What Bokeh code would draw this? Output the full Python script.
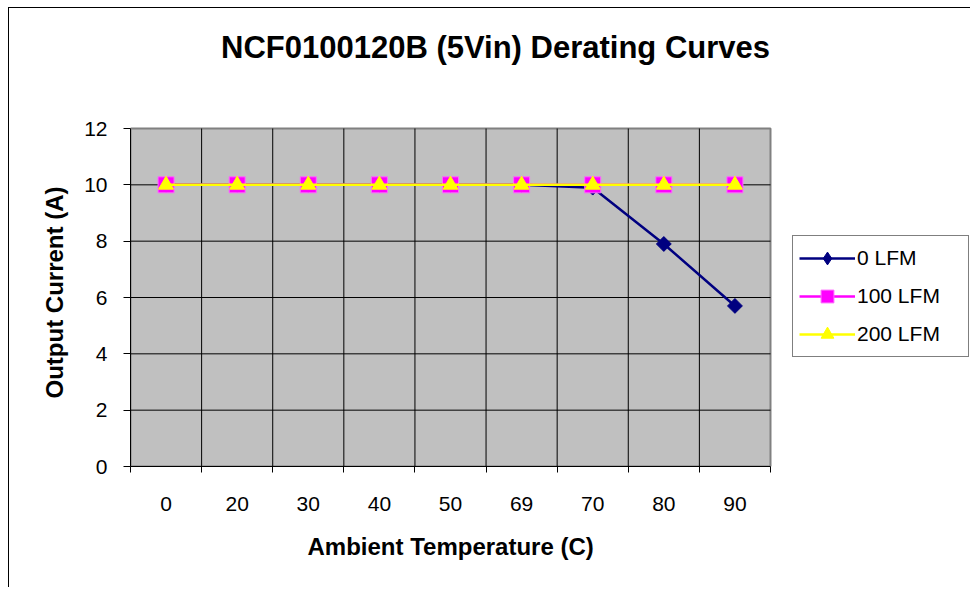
import math
from bokeh.plotting import figure
from bokeh.models import FixedTicker, Legend, LegendItem, ColumnDataSource, Label, Title
from bokeh.embed import file_html
from bokeh.resources import INLINE

# ---- data ----
temps = ["0", "20", "30", "40", "50", "69", "70", "80", "90"]
lfm0 = [10, 10, 10, 10, 10, 10, 9.9, 7.9, 5.7]
lfm100 = [10, 10, 10, 10, 10, 10, 10, 10, 10]
lfm200 = [10, 10, 10, 10, 10, 10, 10, 10, 10]
y_ticks = [0, 2, 4, 6, 8, 10, 12]
title_text = "NCF0100120B (5Vin) Derating Curves"
x_label = "Ambient Temperature (C)"
y_label = "Output Current (A)"

n = len(temps)
xs = list(range(n))
bounds = [i - 0.5 for i in range(n + 1)]
y_min, y_max = y_ticks[0], y_ticks[-1]

src = ColumnDataSource(dict(x=xs, a=lfm0, b=lfm100, c=lfm200))

FONT = "Liberation Sans"

# layout (pixels)
W, H = 962, 580
ML, MR, MT, MB = 121, 2, 0, 122
PLOT_W, PLOT_H = 640, 338          # size of the grey plot area
frame_w, frame_h = W - ML - MR, H - MT - MB
x_end = -0.5 + frame_w / (PLOT_W / n)
y_end = y_min + frame_h / (PLOT_H / (y_max - y_min))

p = figure(width=W, height=H, x_range=(-0.5, x_end), y_range=(y_min, y_end),
           output_backend="svg", toolbar_location=None,
           min_border_left=ML, min_border_right=MR, min_border_top=MT, min_border_bottom=MB)
p.background_fill_color = "white"
p.border_fill_color = "white"
p.outline_line_color = None
p.xgrid.visible = False
p.ygrid.visible = False

# grey plot area
p.quad(left=[bounds[0]], right=[bounds[-1]], bottom=[y_min], top=[y_max],
       fill_color="#C0C0C0", line_color="#808080", line_width=2)
# grid lines
p.segment(x0=bounds[1:-1], x1=bounds[1:-1], y0=[y_min] * (n - 1), y1=[y_max] * (n - 1),
          line_color="black", line_width=1)
p.segment(x0=[bounds[0]] * (len(y_ticks) - 2), x1=[bounds[-1]] * (len(y_ticks) - 2),
          y0=y_ticks[1:-1], y1=y_ticks[1:-1], line_color="black", line_width=1)

# x axis
xa = p.xaxis[0]
xa.bounds = (bounds[0], bounds[-1])
xa.ticker = FixedTicker(ticks=xs, minor_ticks=bounds)
xa.major_label_overrides = {i: t for i, t in zip(xs, temps)}
xa.major_tick_out = 0
xa.major_tick_in = 0
xa.minor_tick_out = 6
xa.minor_tick_in = 0
xa.minor_tick_line_color = "black"
xa.axis_line_color = "black"
xa.major_label_text_font = FONT
xa.major_label_text_font_size = "21px"
xa.major_label_text_color = "black"
xa.major_label_standoff = 24

# y axis
ya = p.yaxis[0]
ya.bounds = (y_min, y_max)
ya.ticker = FixedTicker(ticks=y_ticks)
ya.major_tick_out = 7
ya.major_tick_in = 0
ya.minor_tick_out = 0
ya.minor_tick_in = 0
ya.major_tick_line_color = "black"
ya.axis_line_color = "black"
ya.major_label_text_font = FONT
ya.major_label_text_font_size = "21px"
ya.major_label_text_color = "black"
ya.major_label_standoff = 16

# axis titles (placed relative to the grey plot area)
p.add_layout(Title(text=x_label, align="left", offset=177, vertical_align="top", standoff=38,
                   text_font=FONT, text_font_size="24px", text_font_style="bold",
                   text_color="black"), "below")
p.add_layout(Title(text=y_label, align="left", offset=68, vertical_align="bottom", standoff=28,
                   text_font=FONT, text_font_size="24px", text_font_style="bold",
                   text_color="black"), "left")

# series
l0 = p.line("x", "a", source=src, line_color="#000080", line_width=2.5)
d0 = p.scatter("x", "a", source=src, marker="diamond", size=13,
               fill_color="#000080", line_color="#000080")
s0 = p.scatter("x", "a", source=src, marker="square", angle=math.pi / 4, size=10.5,
               fill_color="#000080", line_color="#000080")
l1 = p.line("x", "b", source=src, line_color="#FF00FF", line_width=2.5)
s1 = p.scatter("x", "b", source=src, marker="square", size=16,
               fill_color="#FF00FF", line_color="#FF66FF")
l2 = p.line("x", "c", source=src, line_color="#FFFF00", line_width=2.5)
s2 = p.scatter("x", "c", source=src, marker="triangle", size=15,
               fill_color="#FFFF00", line_color="#FFFF00")

# chart title (drawn in the chart area)
p.add_layout(Label(x=365, y=419, x_units="screen", y_units="screen", text=title_text,
                   text_font=FONT, text_font_size="31px", text_font_style="bold",
                   text_color="black", text_align="center", text_baseline="middle"))

legend = Legend(items=[
    LegendItem(label="0 LFM", renderers=[l0, d0]),
    LegendItem(label="100 LFM", renderers=[l1, s1]),
    LegendItem(label="200 LFM", renderers=[l2, s2]),
], location=(662, 109))
legend.label_text_font = FONT
legend.label_text_font_size = "21px"
legend.label_text_color = "black"
legend.border_line_color = "black"
legend.border_line_width = 1
legend.background_fill_color = "white"
legend.background_fill_alpha = 1
legend.glyph_width = 56
legend.glyph_height = 32
legend.label_height = 32
legend.label_width = 105
legend.label_standoff = 2
legend.spacing = 6
legend.padding = 6
legend.margin = 0
p.add_layout(legend, "center")

p.styles = {"margin-left": "8px", "margin-top": "7px",
            "border-left": "1px solid black", "border-top": "1px solid black"}

open("out.html", "w").write(file_html(p, INLINE))
